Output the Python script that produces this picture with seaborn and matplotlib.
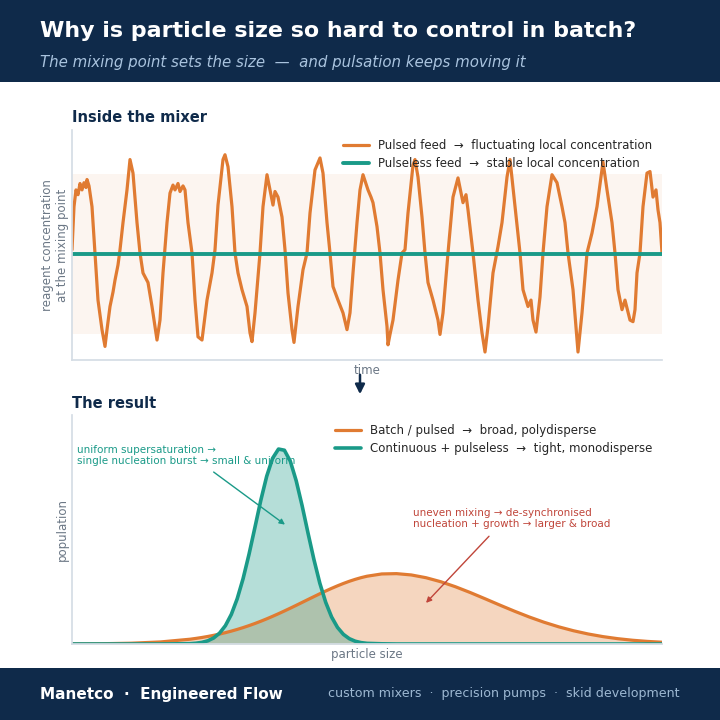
import matplotlib
matplotlib.use("Agg")
from matplotlib import pyplot as plt
import seaborn as sns
import pandas as pd

NAVY = "#0f2a4a"
ORANGE = "#e07b32"
TEAL = "#1a9a88"
RED = "#c0453a"
GRAY = "#6b7785"
SPINE = "#d5dde5"

# --- top panel: local concentration at the mixing point
pulsed_t = [0.0, 0.2, 0.4, 0.6, 0.8, 1.0, 1.2, 1.4, 1.5, 1.7, 2.0, 2.3, 2.6, 3.0, 3.3, 3.5,
            3.8, 4.1, 4.3, 4.6, 4.8, 5.1, 5.5, 5.8, 6.1, 6.5, 6.8, 7.1, 7.6, 8.0, 8.5, 8.8,
            9.1, 9.5, 9.8, 10.1, 10.3, 10.6, 10.8, 11.1, 11.3, 11.6, 12.0, 12.3, 12.6, 13.0,
            13.5, 14.0, 14.3, 14.6, 15.1, 15.3, 15.6, 16.0, 16.3, 16.6, 17.0, 17.5, 17.8, 18.0,
            18.3, 18.8, 19.1, 19.5, 19.8, 20.1, 20.3, 20.6, 21.0, 21.3, 21.6, 22.0, 22.2, 22.6,
            23.1, 23.5, 23.8, 24.3, 24.8, 25.1, 25.5, 25.8, 26.1, 26.6, 27.1, 27.5, 27.8, 28.1,
            28.5, 28.8, 29.1, 29.6, 29.9, 30.1, 30.5, 30.8, 31.1, 31.5, 31.6, 31.8, 32.1, 32.6,
            33.0, 33.3, 33.6, 34.1, 34.3, 34.6, 35.0, 35.3, 35.6, 36.1, 36.6, 36.8, 37.1, 37.6,
            38.1, 38.6, 39.1, 39.4, 39.6, 40.1, 40.6, 41.0, 41.3, 41.6, 42.1, 42.6, 43.0, 43.5,
            43.8, 44.3, 44.8, 45.1, 45.6, 45.9, 46.1, 46.4, 46.8, 47.1, 47.5, 48.0, 48.5, 49.0,
            49.3, 49.6, 50.1, 50.5, 50.6, 51.0, 51.5, 52.0, 52.5, 53.1, 53.5, 54.0, 54.3, 54.6,
            55.0, 55.3, 55.8, 56.1, 56.3, 56.5, 56.8, 57.1, 57.5, 57.8, 58.1, 58.4, 58.6, 58.8,
            59.0]
pulsed_v = [0.05, 0.59, 0.80, 0.74, 0.88, 0.80, 0.89, 0.83, 0.93, 0.85, 0.59, 0.01, -0.58, -0.95,
            -1.16, -0.95, -0.66, -0.48, -0.33, -0.14, 0.05, 0.39, 0.80, 1.18, 1.01, 0.39, 0.01,
            -0.24, -0.36, -0.66, -1.08, -0.83, -0.24, 0.39, 0.76, 0.86, 0.80, 0.88, 0.78, 0.85,
            0.80, 0.39, 0.01, -0.58, -1.04, -1.08, -0.58, -0.24, 0.05, 0.61, 1.18, 1.24, 1.09,
            0.59, 0.01, -0.24, -0.45, -0.66, -0.99, -1.10, -0.74, 0.01, 0.59, 0.99, 0.80, 0.61,
            0.78, 0.71, 0.46, 0.05, -0.49, -0.95, -1.11, -0.66, -0.20, 0.01, 0.51, 1.05, 1.20,
            1.01, 0.39, 0.01, -0.41, -0.58, -0.74, -0.95, -0.74, -0.24, 0.39, 0.80, 0.99, 0.80,
            0.71, 0.64, 0.34, 0.01, -0.45, -0.91, -1.14, -1.01, -0.83, -0.33, 0.01, 0.05, 0.51,
            1.11, 1.18, 0.96, 0.46, 0.01, -0.36, -0.58, -0.83, -1.01, -0.74, 0.01, 0.71, 0.95,
            0.64, 0.74, 0.55, 0.01, -0.58, -0.99, -1.23, -0.91, -0.24, 0.09, 0.39, 0.96, 1.18,
            0.59, 0.01, -0.45, -0.66, -0.58, -0.83, -0.98, -0.54, 0.01, 0.59, 0.99, 0.89, 0.59,
            0.39, 0.01, -0.45, -1.08, -1.23, -0.74, 0.01, 0.26, 0.59, 1.15, 0.80, 0.39, 0.01,
            -0.45, -0.70, -0.58, -0.83, -0.85, -0.70, -0.24, 0.01, 0.59, 1.01, 1.03, 0.71, 0.80,
            0.55, 0.39, 0.01]
steady_t = [0.0, 59.0]
steady_v = [0.0, 0.0]

# --- bottom panel: particle size distributions
size_x = [0.0, 0.5, 1.0, 1.5, 2.0, 2.1, 2.2, 2.3, 2.4, 2.5, 2.6, 2.7, 2.8, 2.9, 3.0, 3.1, 3.2,
          3.3, 3.4, 3.5, 3.6, 3.7, 3.8, 3.9, 4.0, 4.1, 4.2, 4.3, 4.4, 4.5, 4.6, 4.7, 4.8, 4.9,
          5.0, 5.25, 5.5, 5.75, 6.0, 6.25, 6.5, 6.75, 7.0, 7.25, 7.5, 7.75, 8.0, 8.25, 8.5,
          8.75, 9.0, 9.25, 9.5, 9.75, 10.0]
batch_pop = [0.0004, 0.0014, 0.0040, 0.0105, 0.0244, 0.0286, 0.0332, 0.0384, 0.0443, 0.0508,
             0.0579, 0.0658, 0.0745, 0.0838, 0.0939, 0.1047, 0.1163, 0.1285, 0.1414, 0.1548,
             0.1687, 0.1830, 0.1976, 0.2124, 0.2273, 0.2420, 0.2566, 0.2707, 0.2843, 0.2972,
             0.3093, 0.3204, 0.3303, 0.3390, 0.3463, 0.3579, 0.3595, 0.3528, 0.3387, 0.3182,
             0.2924, 0.2629, 0.2313, 0.1990, 0.1676, 0.1380, 0.1112, 0.0877, 0.0677, 0.0511,
             0.0377, 0.0272, 0.0192, 0.0133, 0.0090]
cont_pop = [0.0, 0.0, 0.0, 0.0, 0.0017, 0.0039, 0.0081, 0.0162, 0.0307, 0.0551, 0.0937, 0.151,
            0.231, 0.334, 0.458, 0.595, 0.734, 0.857, 0.949, 0.996, 0.990, 0.934, 0.834, 0.707,
            0.567, 0.432, 0.311, 0.213, 0.138, 0.0847, 0.0492, 0.0272, 0.0142, 0.0070, 0.0033,
            0.001, 0.0, 0.0, 0.0, 0.0, 0.0, 0.0, 0.0, 0.0, 0.0, 0.0, 0.0, 0.0, 0.0, 0.0, 0.0,
            0.0, 0.0, 0.0, 0.0]

top_labels = ["Pulsed feed  \u2192  fluctuating local concentration",
              "Pulseless feed  \u2192  stable local concentration"]
bottom_labels = ["Batch / pulsed  \u2192  broad, polydisperse",
                 "Continuous + pulseless  \u2192  tight, monodisperse"]

sns.set_theme(style="white")
plt.rcParams['font.family'] = ['DejaVu Sans']

fig = plt.figure(figsize=(7.2, 7.2), dpi=100)
W = H = 720.0

def fx(px):
    return px / W

def fy(py):
    return 1 - py / H

# header and footer bands
fig.add_artist(plt.Rectangle((0, fy(82)), 1, 82 / H, transform=fig.transFigure,
                             color=NAVY, lw=0, zorder=0))
fig.add_artist(plt.Rectangle((0, 0), 1, 52 / H, transform=fig.transFigure,
                             color=NAVY, lw=0, zorder=0))
fig.text(fx(40), fy(31), "Why is particle size so hard to control in batch?", color="white",
         fontsize=15.9, fontweight="bold", va="center")
fig.text(fx(40), fy(62), "The mixing point sets the size  \u2014  and pulsation keeps moving it",
         color="#a9c3de", fontsize=10.8, style="italic", va="center")
fig.text(fx(40), fy(694), "Manetco  \u00b7  Engineered Flow", color="white", fontsize=11,
         fontweight="bold", va="center")
fig.text(fx(680), fy(694), "custom mixers  \u00b7  precision pumps  \u00b7  skid development",
         color="#9db8d2", fontsize=9.1, va="center", ha="right")

# ---------------- top panel
ax1 = fig.add_axes([fx(72), fy(360), (662 - 72) / W, (360 - 130) / H])
ax1.axhspan(-1, 1, color=ORANGE, alpha=0.07, lw=0)
top = pd.DataFrame({"t": pulsed_t, "v": pulsed_v})
sns.lineplot(data=top, x="t", y="v", ax=ax1, color=ORANGE, lw=2.3, estimator=None,
             label=top_labels[0], solid_joinstyle="round")
sns.lineplot(x=steady_t, y=steady_v, ax=ax1, color=TEAL, lw=2.8, label=top_labels[1])
ax1.set_xlim(0, 59)
ax1.set_ylim(-1.33, 1.55)
ax1.set_xticks([])
ax1.set_yticks([])
ax1.set_xlabel("time", color=GRAY, fontsize=8.5, labelpad=3)
ax1.set_ylabel("reagent concentration\nat the mixing point", color=GRAY, fontsize=8.5,
               labelpad=2)
ax1.legend(loc="upper right", frameon=False, fontsize=8.45, handlelength=2.2,
           borderaxespad=0.4, labelspacing=0.4)
fig.text(fx(72), fy(118), "Inside the mixer", color=NAVY, fontsize=10.5,
         fontweight="bold", va="center")

# ---------------- bottom panel
ax2 = fig.add_axes([fx(72), fy(644), (662 - 72) / W, (644 - 415) / H])
ax2.fill_between(size_x, batch_pop, color=ORANGE, alpha=0.31, lw=0)
ax2.fill_between(size_x, cont_pop, color=TEAL, alpha=0.32, lw=0)
sns.lineplot(x=size_x, y=batch_pop, ax=ax2, color=ORANGE, lw=2.3, label=bottom_labels[0])
sns.lineplot(x=size_x, y=cont_pop, ax=ax2, color=TEAL, lw=2.6, label=bottom_labels[1],
             solid_joinstyle="round")
ax2.set_xlim(0, 10)
ax2.set_ylim(0, 1.17)
ax2.set_xticks([])
ax2.set_yticks([])
ax2.set_xlabel("particle size", color=GRAY, fontsize=8.5, labelpad=3)
ax2.set_ylabel("population", color=GRAY, fontsize=8.5, labelpad=2)
ax2.legend(loc="upper right", frameon=False, fontsize=8.45, handlelength=2.2,
           borderaxespad=0.4, labelspacing=0.4)
fig.text(fx(72), fy(403), "The result", color=NAVY, fontsize=10.5, fontweight="bold",
         va="center")

ax2.annotate("uniform supersaturation \u2192\nsingle nucleation burst \u2192 small & uniform",
             xy=(3.61, 0.61), xytext=(0.085, 1.015), textcoords="data", color=TEAL,
             fontsize=7.5, va="top", ha="left", linespacing=1.12,
             arrowprops=dict(arrowstyle="-|>", color=TEAL, lw=1.0, mutation_scale=8,
                             shrinkA=3, shrinkB=0, relpos=(0.59, 0.0)))
ax2.annotate("uneven mixing \u2192 de-synchronised\nnucleation + growth \u2192 larger & broad",
             xy=(6.0, 0.21), xytext=(5.78, 0.695), textcoords="data", color=RED,
             fontsize=7.5, va="top", ha="left", linespacing=1.12,
             arrowprops=dict(arrowstyle="-|>", color=RED, lw=1.0, mutation_scale=8,
                             shrinkA=4, shrinkB=0, relpos=(0.42, 0.0)))

for ax in (ax1, ax2):
    sns.despine(ax=ax)
    ax.spines["left"].set_color(SPINE)
    ax.spines["bottom"].set_color(SPINE)
    ax.set_facecolor("white")

# arrow between panels
fig.add_artist(matplotlib.patches.FancyArrowPatch(
    (fx(360), fy(372)), (fx(360), fy(397)), transform=fig.transFigure,
    arrowstyle="-|>", mutation_scale=14, color=NAVY, lw=1.8))

fig.savefig("out.png", dpi=100, facecolor="white")
